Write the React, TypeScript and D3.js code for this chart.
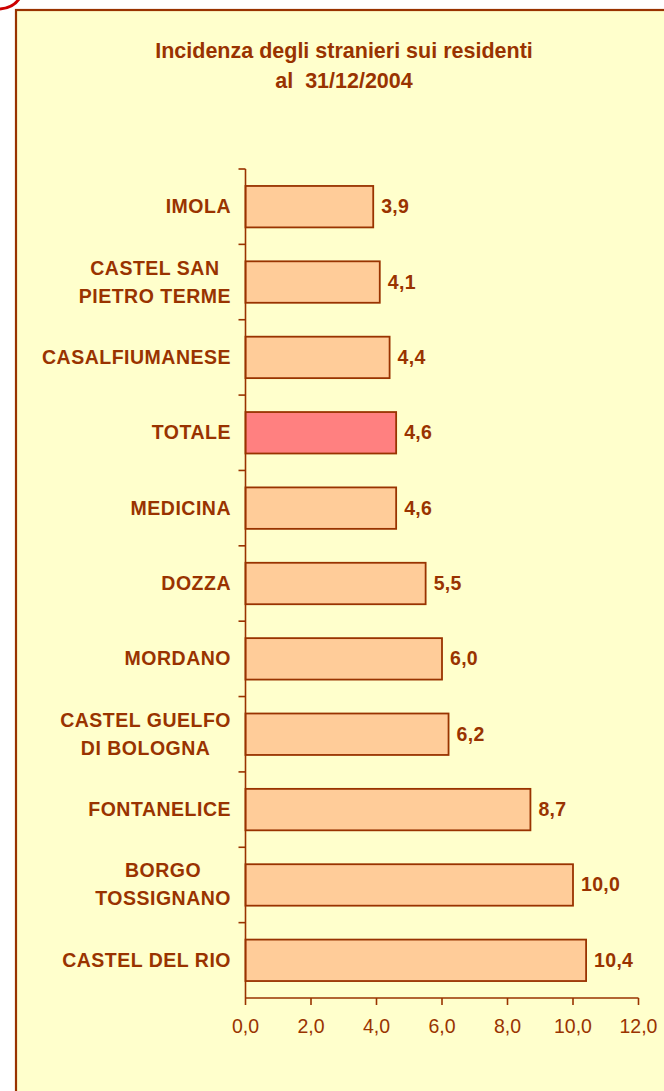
import React, { useEffect, useRef } from "react";
import * as d3 from "d3";

const categories: string[][] = [
  ["IMOLA"],
  ["CASTEL SAN", "PIETRO TERME"],
  ["CASALFIUMANESE"],
  ["TOTALE"],
  ["MEDICINA"],
  ["DOZZA"],
  ["MORDANO"],
  ["CASTEL GUELFO", "DI BOLOGNA"],
  ["FONTANELICE"],
  ["BORGO", "TOSSIGNANO"],
  ["CASTEL DEL RIO"],
];
const values: number[] = [3.9, 4.1, 4.4, 4.6, 4.6, 5.5, 6.0, 6.2, 8.7, 10.0, 10.4];
const highlight = "TOTALE";
const xTicks: number[] = [0, 2, 4, 6, 8, 10, 12];
const titleLines: string[] = ["Incidenza degli stranieri sui residenti", "al  31/12/2004"];

const W = 664;
const H = 1091;
const BROWN = "#993300";
const BG = "#FFFFCC";
const FILL = "#FFCC99";
const FILL_HI = "#FF8080";
const FONT = "'Liberation Sans', Arial, sans-serif";

const fmt = (v: number) => v.toFixed(1).replace(".", ",");

export default function App() {
  const ref = useRef<SVGSVGElement | null>(null);

  useEffect(() => {
    const svg = d3.select(ref.current);
    svg.selectAll("*").remove();

    // background
    svg.append("rect").attr("x", 0).attr("y", 0).attr("width", W).attr("height", H).attr("fill", "#ffffff");
    svg.append("rect").attr("x", 16).attr("y", 10).attr("width", W + 20).attr("height", H + 20)
      .attr("fill", BG).attr("stroke", BROWN).attr("stroke-width", 2.2);
    // red decoration top-left
    svg.append("path").attr("d", "M0,9 Q13,8 19,-1").attr("fill", "none").attr("stroke", "#CC0000").attr("stroke-width", 3);

    // title
    const title = svg.append("text").attr("fill", BROWN).attr("font-family", FONT)
      .attr("font-weight", "bold").attr("font-size", 21.5).attr("text-anchor", "middle");
    titleLines.forEach((t, i) => {
      title.append("tspan").attr("x", 344).attr("y", 58 + i * 30).attr("xml:space", "preserve").text(t);
    });

    const x = d3.scaleLinear().domain([0, 12]).range([245.5, 638.5]);
    const y = d3.scaleBand<number>().domain(d3.range(categories.length)).range([169, 998]).padding(0);
    const bw = y.bandwidth();
    const barH = bw * 0.55;

    // bars
    const g = svg.append("g");
    values.forEach((v, i) => {
      const y0 = (y(i) as number) + (bw - barH) / 2;
      const isHi = categories[i][0] === highlight;
      g.append("rect").attr("x", x(0)).attr("y", y0).attr("width", x(v) - x(0)).attr("height", barH)
        .attr("fill", isHi ? FILL_HI : FILL).attr("stroke", BROWN).attr("stroke-width", 1.8);
      g.append("text").attr("x", x(v) + 8).attr("y", (y(i) as number) + bw / 2 + 6.5)
        .attr("fill", BROWN).attr("font-family", FONT).attr("font-weight", "bold").attr("font-size", 19.5)
        .attr("letter-spacing", 0.3)
        .text(fmt(v));
    });

    // y axis
    svg.append("line").attr("x1", x(0)).attr("x2", x(0)).attr("y1", 169).attr("y2", 998)
      .attr("stroke", BROWN).attr("stroke-width", 1.6);
    for (let i = 0; i < categories.length; i++) {
      const yy = y(i) as number;
      svg.append("line").attr("x1", x(0) - 7).attr("x2", x(0)).attr("y1", yy).attr("y2", yy)
        .attr("stroke", BROWN).attr("stroke-width", 1.6);
    }

    // category labels
    const rightEdge = 231;
    categories.forEach((lines, i) => {
      const cy = (y(i) as number) + bw / 2;
      const t = svg.append("text").attr("fill", BROWN).attr("font-family", FONT)
        .attr("font-weight", "bold").attr("font-size", 19.5).attr("letter-spacing", 0.5)
        .attr("text-anchor", "middle");
      const spans = lines.map((ln, j) =>
        t.append("tspan").attr("y", cy + 6.5 + (j - (lines.length - 1) / 2) * 28).text(ln)
      );
      let maxW = 0;
      spans.forEach((s) => {
        const n = s.node() as SVGTSpanElement;
        maxW = Math.max(maxW, n.getComputedTextLength());
      });
      spans.forEach((s) => s.attr("x", rightEdge - maxW / 2));
    });

    // x axis
    svg.append("line").attr("x1", x(0)).attr("x2", x(12)).attr("y1", 998).attr("y2", 998)
      .attr("stroke", BROWN).attr("stroke-width", 1.6);
    xTicks.forEach((v) => {
      svg.append("line").attr("x1", x(v)).attr("x2", x(v)).attr("y1", 998).attr("y2", 1005)
        .attr("stroke", BROWN).attr("stroke-width", 1.6);
      svg.append("text").attr("x", x(v)).attr("y", 1033).attr("text-anchor", "middle")
        .attr("fill", BROWN).attr("font-family", FONT).attr("font-size", 19.5).text(fmt(v));
    });
  }, []);

  return (
    <svg ref={ref} width={W} height={H}
      style={{ position: "absolute", left: 0, top: 0, display: "block" }} />
  );
}
